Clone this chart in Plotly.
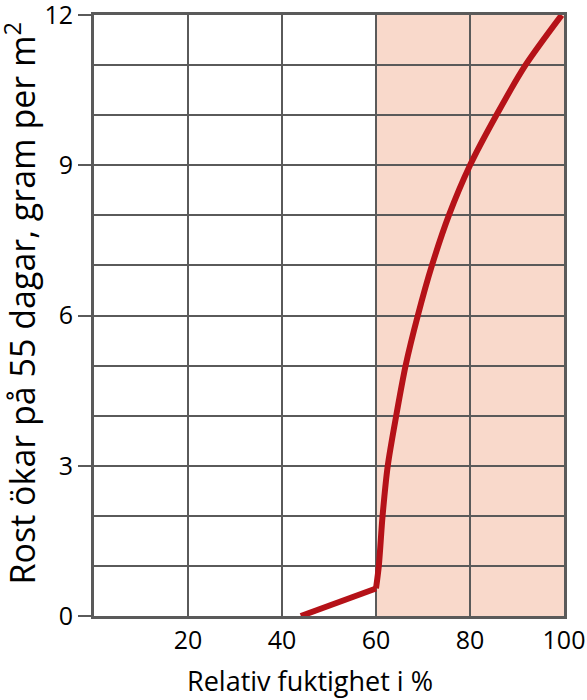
import plotly.graph_objects as go

# Data
rh_low = [44, 60]
rust_low = [0, 0.55]
rh_curve = [60, 60.6, 61.4, 62.5, 64.3, 66.3, 68.9, 71.9, 75.5, 80.0, 85.6, 91.8, 99.5]
rust_curve = [0.55, 1, 2, 3, 4, 5, 6, 7, 8, 9, 10, 11, 12]
humid_zone = [60, 100]
x_ticks = [20, 40, 60, 80, 100]
y_ticks = [0, 3, 6, 9, 12]

LINE = "#B51218"
SHADE = "#F9D9CB"
GRID = "#5A5A5A"
FONT = "Open Sans, Noto Sans, sans-serif"

fig = go.Figure()
fig.add_trace(go.Scatter(x=rh_low, y=rust_low, mode="lines",
                         line=dict(color=LINE, width=6), showlegend=False,
                         hoverinfo="skip"))
fig.add_trace(go.Scatter(x=rh_curve, y=rust_curve, mode="lines",
                         line=dict(color=LINE, width=6, shape="spline", smoothing=0.8),
                         showlegend=False, hoverinfo="skip"))

fig.add_shape(type="rect", xref="x", yref="y",
              x0=humid_zone[0], x1=humid_zone[1], y0=y_ticks[0], y1=y_ticks[-1],
              fillcolor=SHADE, line=dict(width=0), layer="below")

fig.update_layout(
    width=587, height=700,
    margin=dict(l=94, r=23, t=15, b=84),
    paper_bgcolor="white", plot_bgcolor="white",
    font=dict(family=FONT, size=25, color="black"),
    xaxis=dict(range=[0, 100], tickvals=x_ticks, ticktext=[str(v) for v in x_ticks],
               showgrid=True, gridcolor=GRID, gridwidth=2,
               showline=True, linecolor=GRID, linewidth=3, mirror=True,
               ticks="", zeroline=False, tickfont=dict(size=25),
               automargin=False, ticklabelstandoff=0, ticklabeloverflow="allow"),
    yaxis=dict(range=[0, 12.002], tickvals=y_ticks,
               showgrid=True, gridcolor=GRID, gridwidth=2,
               showline=True, linecolor=GRID, linewidth=3, mirror=True,
               ticks="outside", ticklen=13, tickwidth=2, tickcolor=GRID,
               zeroline=False, tickfont=dict(size=25), automargin=False,
               ticklabeloverflow="allow",
               minor=dict(dtick=1, showgrid=True, gridcolor=GRID, gridwidth=2, ticks="")),
)

fig.add_annotation(text="Rost ökar på 55 dagar, gram per m<sup>2</sup>",
                   xref="paper", yref="paper", x=0, y=0.5, xshift=-74, yshift=12,
                   xanchor="center", yanchor="middle", textangle=-90,
                   showarrow=False, font=dict(size=34))
fig.add_annotation(text="Relativ fuktighet i %",
                   xref="paper", yref="paper", x=0.46, y=0, yshift=-64,
                   xanchor="center", yanchor="middle",
                   showarrow=False, font=dict(size=27))

fig.write_html("out.html", post_script="document.body.style.margin='0';",
               config={"displayModeBar": False})
